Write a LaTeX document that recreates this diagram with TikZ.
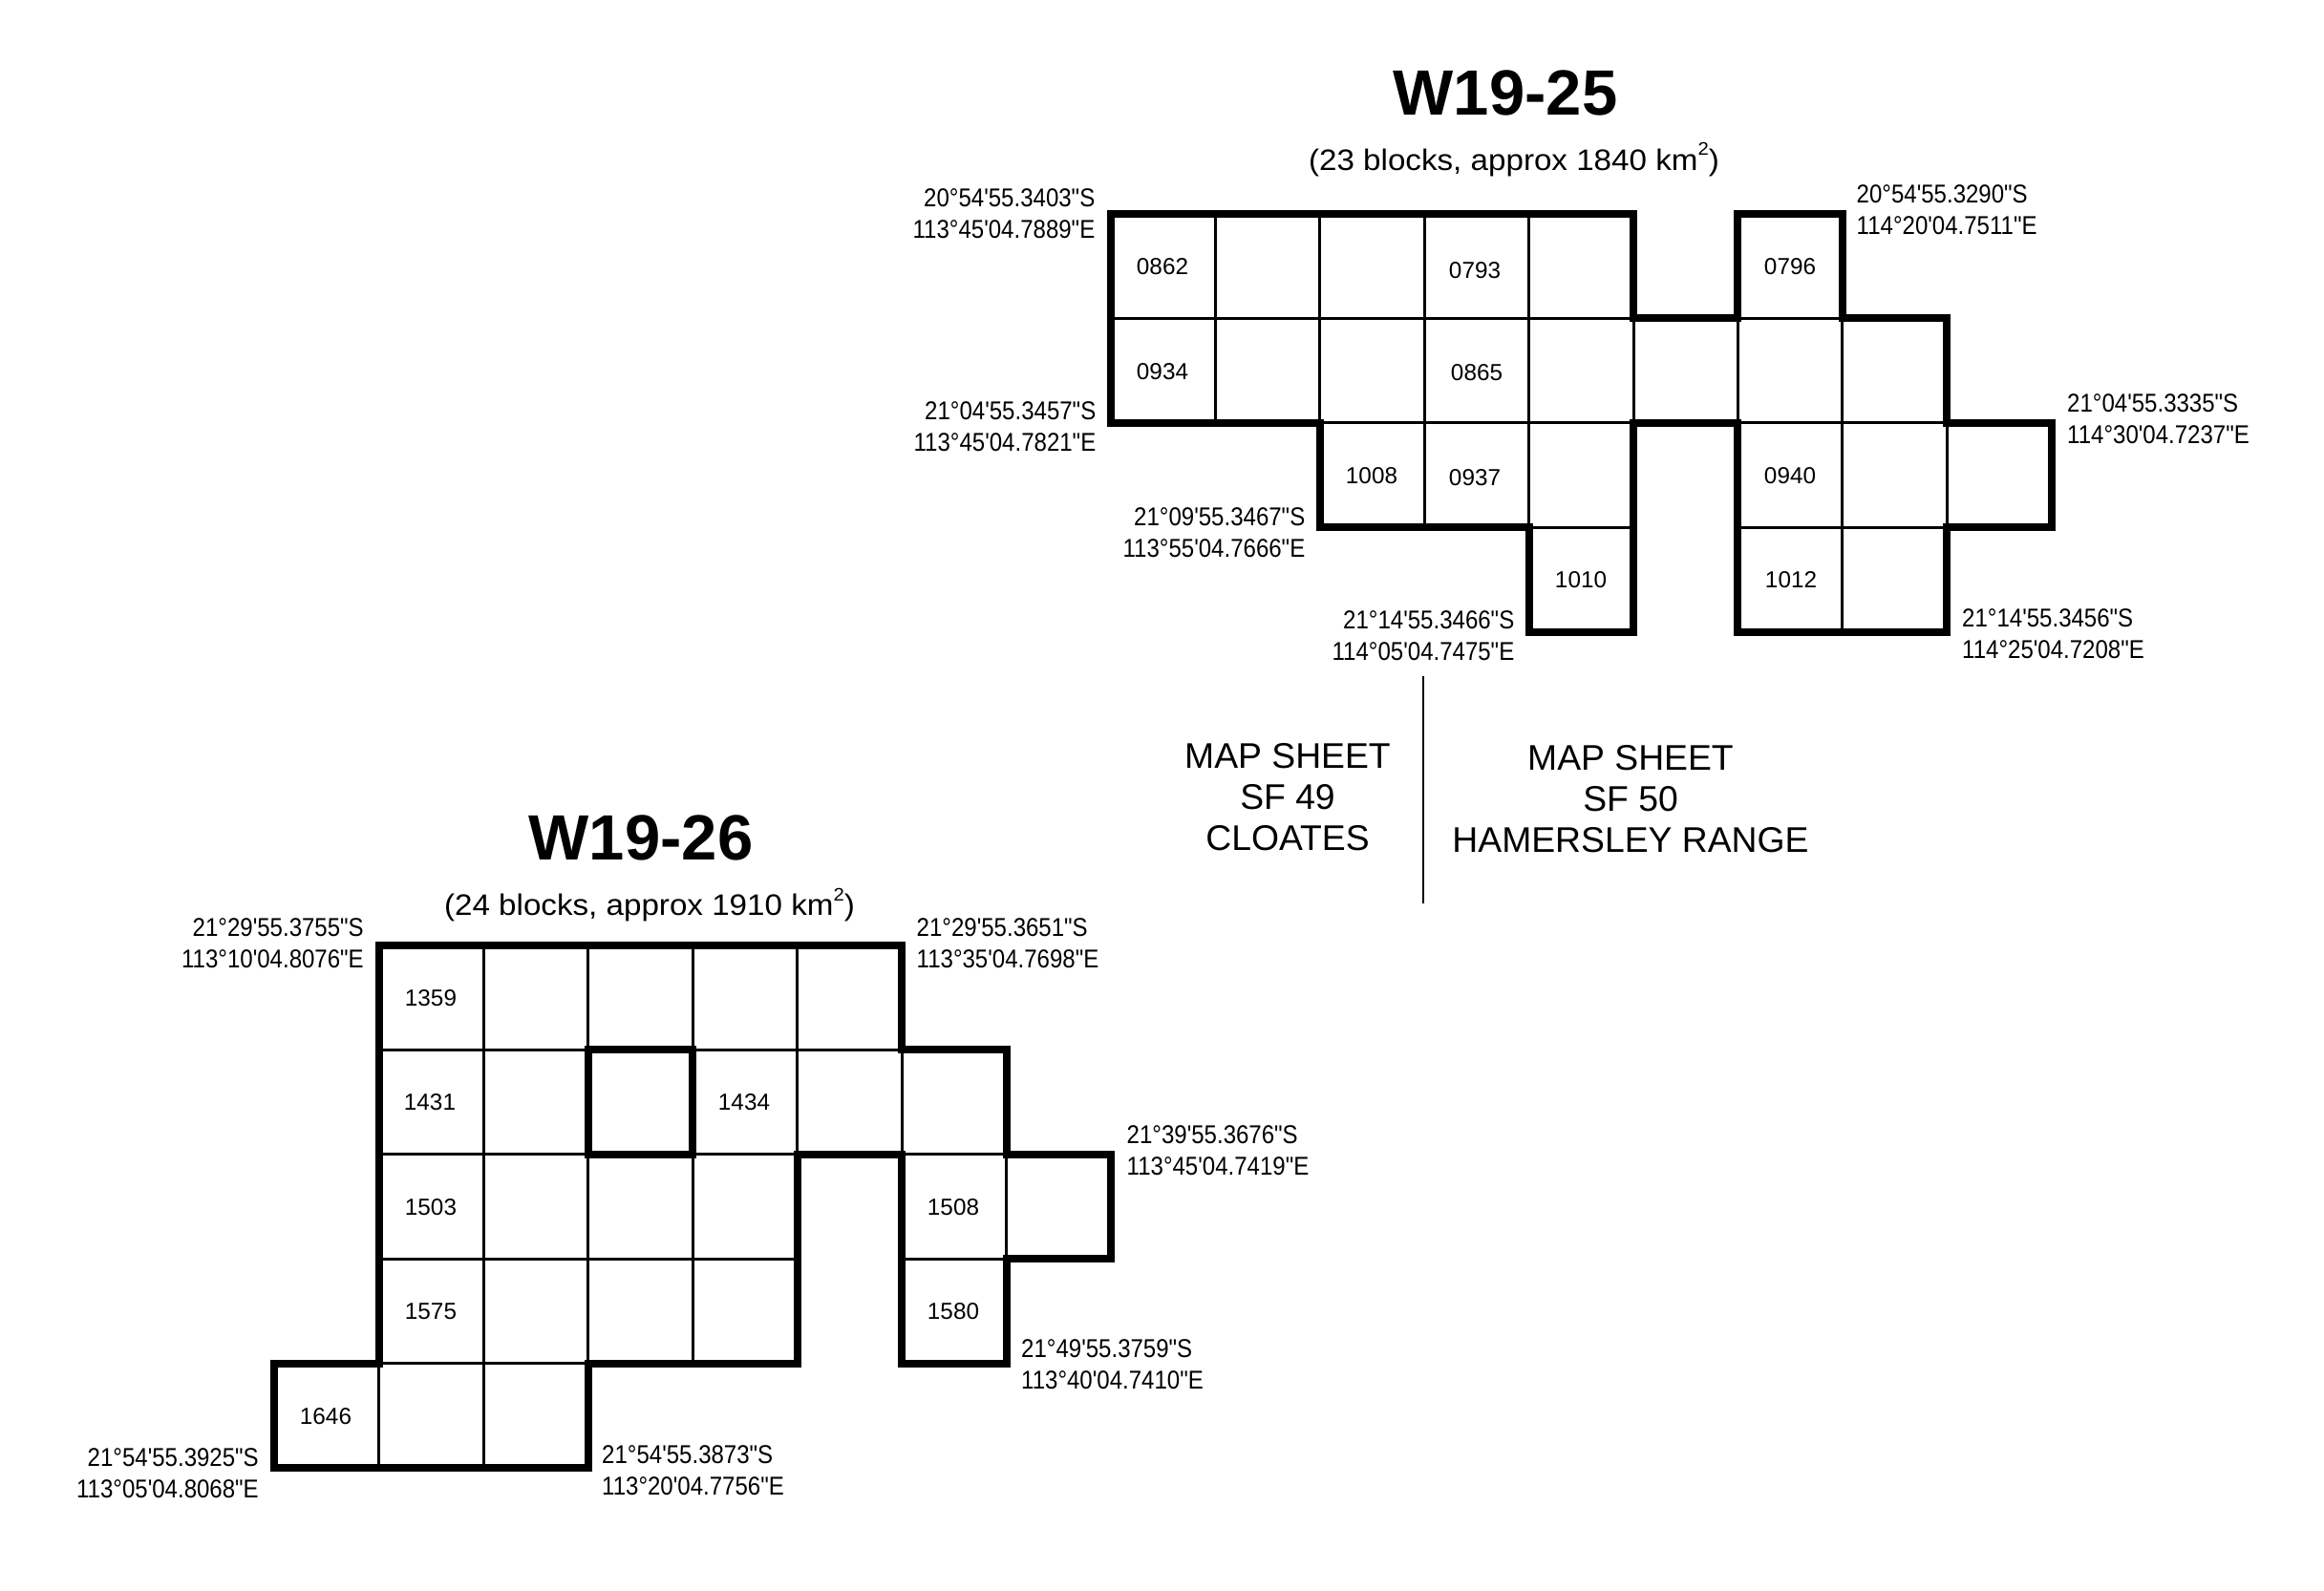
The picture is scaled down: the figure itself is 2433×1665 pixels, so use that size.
\documentclass[tikz,border=0pt]{standalone}
\usepackage{fontspec}
\setmainfont{Liberation Sans}
\newfontfamily\coordfont[FakeStretch=0.89]{Liberation Sans}
\newfontfamily\subfont[FakeStretch=1.07]{Liberation Sans}
\newcommand{\squared}{\raisebox{.5em}{\fontsize{19}{19}\selectfont 2}}
\tikzset{
	thinline/.style={line width=3pt},
	thickline/.style={line width=8pt, line join=miter, line cap=butt},
	blocklabel/.style={inner sep=0pt, font=\fontsize{24.3}{24.3}\selectfont},
	coordlabel/.style={inner sep=0pt, font=\coordfont\fontsize{27}{33}\selectfont},
	coordleft/.style={coordlabel, anchor=west, align=left},
	coordright/.style={coordlabel, anchor=east, align=right},
	titlelabel/.style={inner sep=0pt, font=\bfseries\fontsize{67}{67}\selectfont},
	sublabel/.style={inner sep=0pt, font=\subfont\fontsize{31}{31}\selectfont},
	sheetlabel/.style={inner sep=0pt, align=center, font=\fontsize{37.3}{43}\selectfont},
}
\begin{document}
\begin{tikzpicture}[x=1pt, y=-1pt]
	\useasboundingbox (0,0) rectangle (2433,1665);
	% W19-25
	\begin{scope}[shift={(1163,223.5)}, x=109.4pt, y=-109.5pt]
		\foreach \r/\cols in {0/{0,1,2,3,4,6},1/{0,1,2,3,4,5,6,7},2/{2,3,4,6,7,8},3/{4,6,7}}
		\foreach \c in \cols
		\draw[thinline] (\c,\r) rectangle ++(1,1);
		\draw[thickline] (0,0)--(5,0)--(5,1)--(6,1)--(6,0)--(7,0)--(7,1)--(8,1)--(8,2)--(9,2)--(9,3)--(8,3)--(8,4)--(6,4)--(6,2)--(5,2)--(5,4)--(4,4)--(4,3)--(2,3)--(2,2)--(0,2)--cycle;
	\end{scope}
	\foreach \n/\x/\y in {0862/1217/279,0793/1544/283,0796/1874/279,0934/1217/389,0865/1546/390,1008/1436/498,0937/1544/500,0940/1874/498,1010/1655/607,1012/1875/607}
	\node[blocklabel] (b\n) at (\x,\y) {\n};
	\node[titlelabel] (title25) at (1576,97.5) {W19-25};
	\node[sublabel] (sub25) at (1585,167) {(23 blocks, approx 1840 km\squared)};
	\node[coordright] (c25a) at (1146.5,223.5) {20°54'55.3403"S\\113°45'04.7889"E};
	\node[coordright] (c25b) at (1147.5,447) {21°04'55.3457"S\\113°45'04.7821"E};
	\node[coordright] (c25c) at (1366.5,557.5) {21°09'55.3467"S\\113°55'04.7666"E};
	\node[coordright] (c25d) at (1585.5,666) {21°14'55.3466"S\\114°05'04.7475"E};
	\node[coordleft] (c25e) at (1943.5,220) {20°54'55.3290"S\\114°20'04.7511"E};
	\node[coordleft] (c25f) at (2164,439) {21°04'55.3335"S\\114°30'04.7237"E};
	\node[coordleft] (c25g) at (2054,664) {21°14'55.3456"S\\114°25'04.7208"E};
	% map sheets
	\coordinate (linetop) at (1490,708);
	\coordinate (linebot) at (1490,946);
	\draw[line width=2.3pt] (linetop)--(linebot);
	\node[sheetlabel] (sheetw) at (1348,834.5) {MAP SHEET\\SF 49\\CLOATES};
	\node[sheetlabel] (sheete) at (1707,836.5) {MAP SHEET\\SF 50\\HAMERSLEY RANGE};
	% W19-26
	\begin{scope}[shift={(287,989.5)}, x=109.5pt, y=-109.5pt]
		\foreach \r/\cols in {0/{1,2,3,4,5},1/{1,2,4,5,6},2/{1,2,3,4,6,7},3/{1,2,3,4,6},4/{0,1,2}}
		\foreach \c in \cols
		\draw[thinline] (\c,\r) rectangle ++(1,1);
		\draw[thickline] (1,0)--(6,0)--(6,1)--(7,1)--(7,2)--(8,2)--(8,3)--(7,3)--(7,4)--(6,4)--(6,2)--(5,2)--(5,4)--(3,4)--(3,5)--(0,5)--(0,4)--(1,4)--cycle;
		\draw[thickline] (3,1) rectangle (4,2);
	\end{scope}
	\foreach \n/\x/\y in {1359/451/1045,1431/450/1154.5,1434/779/1154.5,1503/451/1264,1508/998/1264,1575/451/1373.5,1580/998/1373.5,1646/341/1483.5}
	\node[blocklabel] (b\n) at (\x,\y) {\n};
	\node[titlelabel] (title26) at (671,877) {W19-26};
	\node[sublabel] (sub26) at (680,947.5) {(24 blocks, approx 1910 km\squared)};
	\node[coordright] (c26a) at (381,988) {21°29'55.3755"S\\113°10'04.8076"E};
	\node[coordleft] (c26b) at (959.5,987.5) {21°29'55.3651"S\\113°35'04.7698"E};
	\node[coordleft] (c26c) at (1179.5,1205) {21°39'55.3676"S\\113°45'04.7419"E};
	\node[coordleft] (c26d) at (1069,1429) {21°49'55.3759"S\\113°40'04.7410"E};
	\node[coordleft] (c26e) at (630,1539.5) {21°54'55.3873"S\\113°20'04.7756"E};
	\node[coordright] (c26f) at (271,1542.5) {21°54'55.3925"S\\113°05'04.8068"E};
\end{tikzpicture}
\end{document}
